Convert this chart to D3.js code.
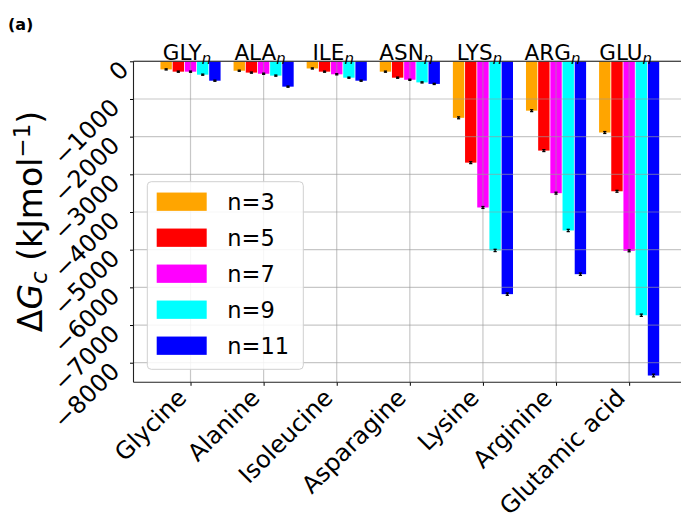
<!DOCTYPE html>
<html>
<head>
<meta charset="utf-8">
<script src="https://cdn.jsdelivr.net/npm/d3@7"></script>
<style>
  body { margin: 0; background: #fff; }
  svg { display: block; }
  text { font-family: "DejaVu Sans", sans-serif; fill: #000; }
</style>
</head>
<body>
<svg id="chart" width="681" height="515"></svg>
<script>
// Amino acids on the x axis and their short residue names shown above each group
const categories = ["Glycine", "Alanine", "Isoleucine", "Asparagine", "Lysine", "Arginine", "Glutamic acid"];
const groupLabels = ["GLY", "ALA", "ILE", "ASN", "LYS", "ARG", "GLU"];

// Chain lengths (legend) and their colours
const seriesNames = ["n=3", "n=5", "n=7", "n=9", "n=11"];
const seriesColors = ["#ffa500", "#ff0000", "#ff00ff", "#00ffff", "#0000ff"];

// ΔG_c in kJ/mol, one array per chain length, ordered like `categories`
const valuesN3  = [-215, -250, -190, -275, -1500, -1310, -1890];
const valuesN5  = [-275, -300, -275, -435, -2690, -2370, -3450];
const valuesN7  = [-275, -330, -345, -490, -3880, -3500, -5030];
const valuesN9  = [-355, -380, -435, -560, -5020, -4490, -6740];
const valuesN11 = [-515, -673, -515, -600, -6180, -5650, -8340];

// Uncertainties (kJ/mol) drawn as small error bars
const errN3  = [15, 15, 15, 15, 25, 25, 25];
const errN5  = [15, 15, 15, 15, 25, 25, 25];
const errN7  = [15, 15, 15, 15, 25, 25, 25];
const errN9  = [15, 15, 15, 15, 30, 30, 30];
const errN11 = [15, 15, 15, 15, 30, 30, 35];

const yTicks = [0, -1000, -2000, -3000, -4000, -5000, -6000, -7000, -8000];

const seriesValues = [valuesN3, valuesN5, valuesN7, valuesN9, valuesN11];
const seriesErrors = [errN3, errN5, errN7, errN9, errN11];

const svg = d3.select("#chart");

// Plot frame
const frameL = 133.5, frameR = 684.7, frameT = 61.3, frameB = 382.3;

const x = d3.scaleLinear().domain([-0.78, 6.76]).range([frameL, frameR]);
const y = d3.scaleLinear().domain([-8520, 0]).range([frameB, frameT]);

const nSeries = seriesNames.length;
const barStep = 1 / (nSeries + 1);          // width of one bar in category units
const offset = k => (k - (nSeries - 1) / 2) * barStep;

// Bars
const bars = [];
seriesValues.forEach((vals, k) => {
  vals.forEach((v, i) => bars.push({ k, i, v, e: seriesErrors[k][i] }));
});

const plot = svg.append("g");
plot.selectAll("rect.bar")
  .data(bars)
  .enter().append("rect")
  .attr("class", "bar")
  .attr("x", d => x(d.i + offset(d.k) - barStep / 2) + 0.4)
  .attr("width", d => x(barStep) - x(0) - 0.8)
  .attr("y", d => y(0))
  .attr("height", d => y(d.v) - y(0))
  .attr("fill", d => seriesColors[d.k]);

// Grid (drawn over the bars, semi-transparent)
const grid = svg.append("g").attr("stroke", "#999").attr("stroke-opacity", 0.55).attr("stroke-width", 1.2);
grid.selectAll("line.h").data(yTicks).enter().append("line")
  .attr("x1", frameL).attr("x2", frameR)
  .attr("y1", d => y(d)).attr("y2", d => y(d));
grid.selectAll("line.v").data(d3.range(categories.length)).enter().append("line")
  .attr("x1", d => x(d)).attr("x2", d => x(d))
  .attr("y1", frameT).attr("y2", frameB);

// Error bars
const eb = svg.append("g").attr("stroke", "#000").attr("stroke-width", 1.3);
const capW = 1.6;
bars.forEach(d => {
  const cx = x(d.i + offset(d.k));
  eb.append("line").attr("x1", cx).attr("x2", cx).attr("y1", y(d.v - d.e)).attr("y2", y(d.v + d.e));
  [d.v - d.e, d.v + d.e].forEach(t => {
    eb.append("line").attr("x1", cx - capW).attr("x2", cx + capW).attr("y1", y(t)).attr("y2", y(t));
  });
});

// Y axis
const yAxis = svg.append("g")
  .attr("transform", `translate(${frameL},0)`)
  .call(d3.axisLeft(y).tickValues(yTicks).tickSize(3.5).tickFormat(d3.format("d")));
yAxis.select(".domain").remove();
yAxis.selectAll(".tick line").attr("stroke", "#000").attr("stroke-width", 1);
yAxis.selectAll(".tick text")
  .attr("x", null).attr("dy", null)
  .attr("text-anchor", "end")
  .attr("transform", d => d === 0 ? "translate(-3.5,9.5) rotate(-45)" : "translate(-12.5,9.5) rotate(-45)")
  .style("font-size", "24px")
  .style("font-family", "DejaVu Sans, sans-serif");

// X axis
const xAxis = svg.append("g")
  .attr("transform", `translate(0,${frameB})`)
  .call(d3.axisBottom(x).tickValues(d3.range(categories.length)).tickSize(3.5).tickFormat(i => categories[i]));
xAxis.select(".domain").remove();
xAxis.selectAll(".tick line").attr("stroke", "#000").attr("stroke-width", 1);
xAxis.selectAll(".tick text")
  .attr("y", null).attr("dy", null)
  .attr("text-anchor", "end")
  .attr("transform", "translate(-3,17) rotate(-45)")
  .style("font-size", "24px")
  .style("font-family", "DejaVu Sans, sans-serif");

// Spines
const spines = svg.append("g").attr("stroke", "#222").attr("stroke-width", 1.1).attr("fill", "none");
spines.append("line").attr("x1", frameL).attr("x2", frameL).attr("y1", frameT).attr("y2", frameB);
spines.append("line").attr("x1", frameL).attr("x2", frameR).attr("y1", frameB).attr("y2", frameB);
spines.append("line").attr("x1", frameL).attr("x2", frameR).attr("y1", frameT).attr("y2", frameT);
spines.append("line").attr("x1", frameR).attr("x2", frameR).attr("y1", frameT).attr("y2", frameB);

// Residue labels above each group
const gl = svg.append("g").selectAll("text").data(groupLabels).enter().append("text")
  .attr("x", (d, i) => x(i) - 3.5)
  .attr("y", 60)
  .attr("text-anchor", "middle")
  .style("font-size", "21.5px");
gl.append("tspan").text(d => d);
gl.append("tspan").attr("dy", 3.5).style("font-size", "15px").style("font-style", "italic").text("n");

// Legend
const lg = svg.append("g");
lg.append("rect")
  .attr("x", 147.3).attr("y", 181.7).attr("width", 156).attr("height", 187.6)
  .attr("rx", 4).attr("fill", "#fff").attr("fill-opacity", 0.85)
  .attr("stroke", "#d0d0d0").attr("stroke-width", 1);
seriesNames.forEach((name, k) => {
  const cy = 201.7 + 36 * k;
  lg.append("rect").attr("x", 156.7).attr("y", cy - 9.15).attr("width", 50).attr("height", 18.3)
    .attr("fill", seriesColors[k]);
  lg.append("text").attr("x", 227.3).attr("y", cy + 8.5).style("font-size", "22.5px").text(name);
});

// Y axis title: ΔG_c (kJmol⁻¹)
const yt = svg.append("text")
  .attr("transform", "translate(41.7,221.5) rotate(-90)")
  .attr("text-anchor", "middle")
  .style("font-size", "33px");
yt.append("tspan").text("Δ");
yt.append("tspan").style("font-style", "italic").text("G");
yt.append("tspan").attr("dy", 5).style("font-size", "23px").style("font-style", "italic").text("c");
yt.append("tspan").attr("dy", -5).text(" (kJmol");
yt.append("tspan").attr("dy", -12).style("font-size", "23px").text("−1");
yt.append("tspan").attr("dy", 12).text(")");

// Panel tag
svg.append("text").attr("x", 8).attr("y", 30).style("font-size", "16px").style("font-weight", "bold").text("(a)");
</script>
</body>
</html>
